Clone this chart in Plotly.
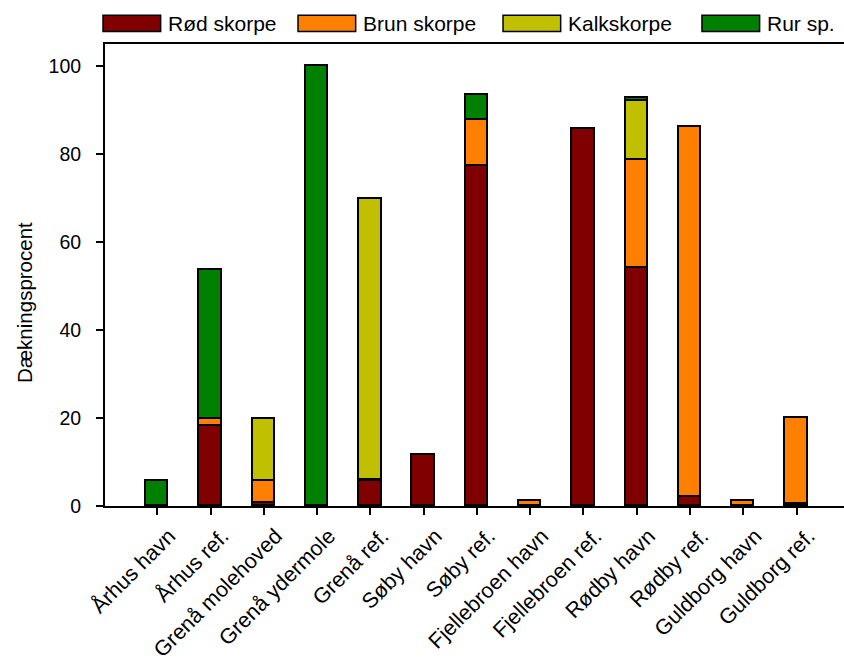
import plotly.graph_objects as go

# Sampling stations and coverage (%) per crust/fouling type
stations = ["Århus havn", "Århus ref.", "Grenå molehoved", "Grenå ydermole",
            "Grenå ref.", "Søby havn", "Søby ref.", "Fjellebroen havn",
            "Fjellebroen ref.", "Rødby havn", "Rødby ref.", "Guldborg havn",
            "Guldborg ref."]

rod_skorpe = [0, 18.2, 0.7, 0, 5.6, 11.5, 77.2, 0, 85.6, 54.0, 2.0, 0, 0.5]
brun_skorpe = [0, 1.6, 5.0, 0, 0.4, 0, 10.6, 1.1, 0, 24.7, 84.1, 1.1, 19.6]
kalkskorpe = [0, 0, 14.1, 0, 63.8, 0, 0, 0, 0, 13.3, 0, 0, 0]
rur_sp = [5.7, 33.8, 0, 100.0, 0, 0, 5.7, 0, 0, 0.8, 0, 0, 0]

series_names = ["Rød skorpe", "Brun skorpe", "Kalkskorpe", "Rur sp."]
series_values = [rod_skorpe, brun_skorpe, kalkskorpe, rur_sp]
colors = ["#800000", "#FF8000", "#C0C000", "#008000"]

y_ticks = [0, 20, 40, 60, 80, 100]
y_title = "Dækningsprocent"

FONT = "Liberation Sans, Arial, Helvetica, sans-serif"

fig = go.Figure()
for name, vals, col in zip(series_names, series_values, colors):
    fig.add_trace(go.Bar(
        x=list(range(len(stations))), y=vals, name=name,
        marker=dict(color=col, line=dict(color="black", width=1.8)),
        width=0.42, showlegend=False,
    ))

# Legend drawn as boxes + labels above the plot area (paper coordinates)
legend_box_x0 = [-0.0027, 0.2612, 0.5386, 0.8078]
box_w = 0.078
for name, col, x0 in zip(series_names, colors, legend_box_x0):
    fig.add_shape(type="rect", xref="paper", yref="paper",
                  x0=x0, x1=x0 + box_w, y0=1.027, y1=1.062,
                  fillcolor=col, line=dict(color="black", width=1.5))
    fig.add_annotation(xref="paper", yref="paper", x=x0 + box_w + 0.0105,
                       y=1.0445, text=name, showarrow=False, xanchor="left",
                       yanchor="middle", xshift=-2,
                       font=dict(family=FONT, size=21, color="black"))

# Y-axis title
fig.add_annotation(xref="paper", yref="paper", x=-0.108, y=0.44,
                   text=y_title, textangle=-90, showarrow=False,
                   xanchor="center", yanchor="middle",
                   font=dict(family=FONT, size=20.5, color="black"))

fig.update_layout(
    barmode="stack",
    width=844, height=668,
    margin=dict(l=105, r=0, t=44, b=162),
    plot_bgcolor="white", paper_bgcolor="white",
    font=dict(family=FONT, size=20, color="black"),
    bargap=0,
    xaxis=dict(
        range=[-0.98, 12.89], automargin=False,
        tickmode="array", tickvals=list(range(len(stations))),
        ticktext=stations, tickangle=-45,
        ticklabelshift=12,
        showline=True, linecolor="black", linewidth=2, mirror=True,
        ticks="outside", ticklen=7, tickwidth=1.5, tickcolor="black",
        showgrid=False, zeroline=False,
        tickfont=dict(family=FONT, size=21.5, color="black"),
    ),
    yaxis=dict(
        range=[0, 105], automargin=False,
        tickmode="array", tickvals=y_ticks,
        showline=True, linecolor="black", linewidth=2,
        ticks="outside", ticklen=7, tickwidth=1.5, tickcolor="black",
        ticklabelstandoff=11,
        showgrid=False, zeroline=False,
        tickfont=dict(family=FONT, size=19.5, color="black"),
    ),
)

fig.write_html("out.html")
